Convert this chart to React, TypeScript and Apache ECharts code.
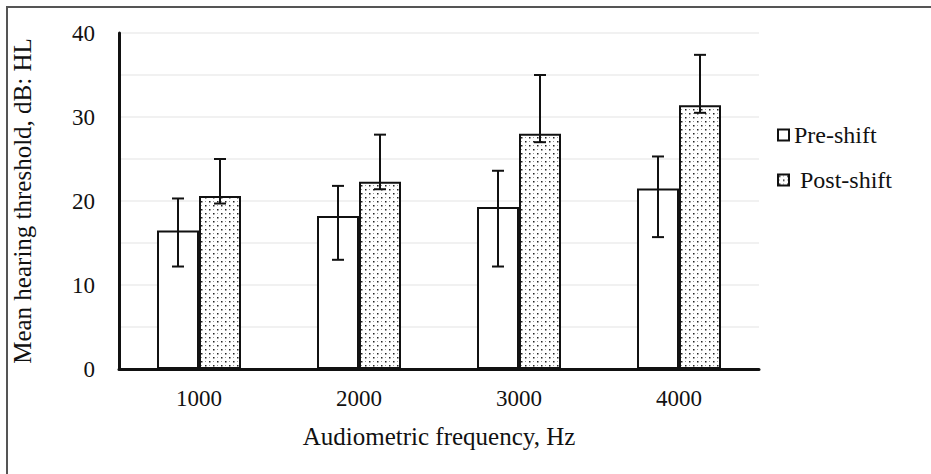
import React, { useEffect, useRef } from "react";
import * as echarts from "echarts";

const categories = ["1000", "2000", "3000", "4000"];
const preShift = [16.5, 18.2, 19.3, 21.5];
const preLow = [12.2, 13.0, 12.2, 15.7];
const preHigh = [20.3, 21.8, 23.6, 25.3];
const postShift = [20.6, 22.3, 28.0, 31.4];
const postLow = [19.7, 21.4, 27.0, 30.5];
const postHigh = [25.0, 27.9, 35.0, 37.4];
const yTicks = [0, 10, 20, 30, 40];

const BAR_W = 42;
const FONT = "'Liberation Serif', 'Times New Roman', serif";

function makeDots(): HTMLCanvasElement {
  const c = document.createElement("canvas");
  c.width = 8;
  c.height = 8;
  const ctx = c.getContext("2d")!;
  ctx.fillStyle = "#fff";
  ctx.fillRect(0, 0, 8, 8);
  ctx.fillStyle = "#222";
  ctx.fillRect(1, 1, 1.5, 1.5);
  ctx.fillRect(5, 5, 1.5, 1.5);
  ctx.fillStyle = "#999";
  ctx.fillRect(5, 1, 1, 1);
  ctx.fillRect(1, 5, 1, 1);
  return c;
}

export default function App() {
  const ref = useRef<HTMLDivElement>(null);
  useEffect(() => {
    document.body.style.margin = "0";
    const chart = echarts.init(ref.current!, null, { renderer: "svg" });
    const dots = { image: makeDots(), repeat: "repeat" } as any;
    const errItem = (offset: number) => (params: any, api: any) => {
      const i = api.value(0);
      const lo = api.coord([i, api.value(1)]);
      const hi = api.coord([i, api.value(2)]);
      const x = lo[0] + offset;
      const cap = 6;
      const st = { stroke: "#111", lineWidth: 2 };
      return {
        type: "group",
        children: [
          { type: "line", shape: { x1: x, y1: lo[1], x2: x, y2: hi[1] }, style: st },
          { type: "line", shape: { x1: x - cap, y1: lo[1], x2: x + cap, y2: lo[1] }, style: st },
          { type: "line", shape: { x1: x - cap, y1: hi[1], x2: x + cap, y2: hi[1] }, style: st },
        ],
      };
    };
    chart.setOption({
      animation: false,
      backgroundColor: "#fff",
      textStyle: { fontFamily: FONT },
      graphic: [
        {
          type: "rect",
          shape: { x: 7, y: 7, width: 940, height: 480 },
          style: { fill: "none", stroke: "#555", lineWidth: 2 },
          silent: true,
          z: -1,
        },
      ],
      grid: { left: 119, right: 172, top: 33, bottom: 105 },
      legend: {
        data: ["Pre-shift", "Post-shift"],
        orient: "vertical",
        left: 772,
        top: 118,
        itemWidth: 11,
        itemHeight: 11,
        itemGap: 21,
        icon: "rect",
        formatter: (n: string) => (n === "Post-shift" ? " " + n : n),
        textStyle: { fontFamily: FONT, fontSize: 24, color: "#111" },
      },
      xAxis: {
        type: "category",
        data: categories,
        axisLine: { lineStyle: { color: "#111", width: 3 } },
        axisTick: { show: false },
        axisLabel: { fontFamily: FONT, fontSize: 23, color: "#111", margin: 18 },
        name: "Audiometric frequency, Hz",
        nameLocation: "middle",
        nameGap: 55,
        nameTextStyle: { fontFamily: FONT, fontSize: 25, color: "#111" },
      },
      yAxis: {
        type: "value",
        min: 0,
        max: 40,
        interval: 5,
        axisLine: { show: true, lineStyle: { color: "#111", width: 3 } },
        axisTick: { show: false },
        splitLine: { lineStyle: { color: "#ededed", width: 1.5 } },
        axisLabel: {
          fontFamily: FONT,
          fontSize: 23,
          color: "#111",
          margin: 24,
          formatter: (v: number) => (yTicks.includes(v) ? String(v) : ""),
        },
        name: "Mean hearing threshold, dB: HL",
        nameLocation: "middle",
        nameGap: 84,
        nameTextStyle: { fontFamily: FONT, fontSize: 25, color: "#111" },
      },
      series: [
        {
          name: "Pre-shift",
          type: "bar",
          data: preShift,
          barWidth: BAR_W,
          barGap: "0%",
          itemStyle: { color: "#fff", borderColor: "#111", borderWidth: 2 },
        },
        {
          name: "Post-shift",
          type: "bar",
          data: postShift,
          barWidth: BAR_W,
          barGap: "0%",
          itemStyle: { color: dots, borderColor: "#111", borderWidth: 2 },
        },
        {
          type: "custom",
          name: "preErr",
          renderItem: errItem(-BAR_W / 2),
          encode: { x: 0, y: [1, 2] },
          data: categories.map((_, i) => [i, preLow[i], preHigh[i]]),
          z: 10,
        },
        {
          type: "custom",
          name: "postErr",
          renderItem: errItem(BAR_W / 2),
          encode: { x: 0, y: [1, 2] },
          data: categories.map((_, i) => [i, postLow[i], postHigh[i]]),
          z: 10,
        },
      ],
    });
    return () => chart.dispose();
  }, []);
  return <div ref={ref} style={{ width: 931, height: 474 }} />;
}
